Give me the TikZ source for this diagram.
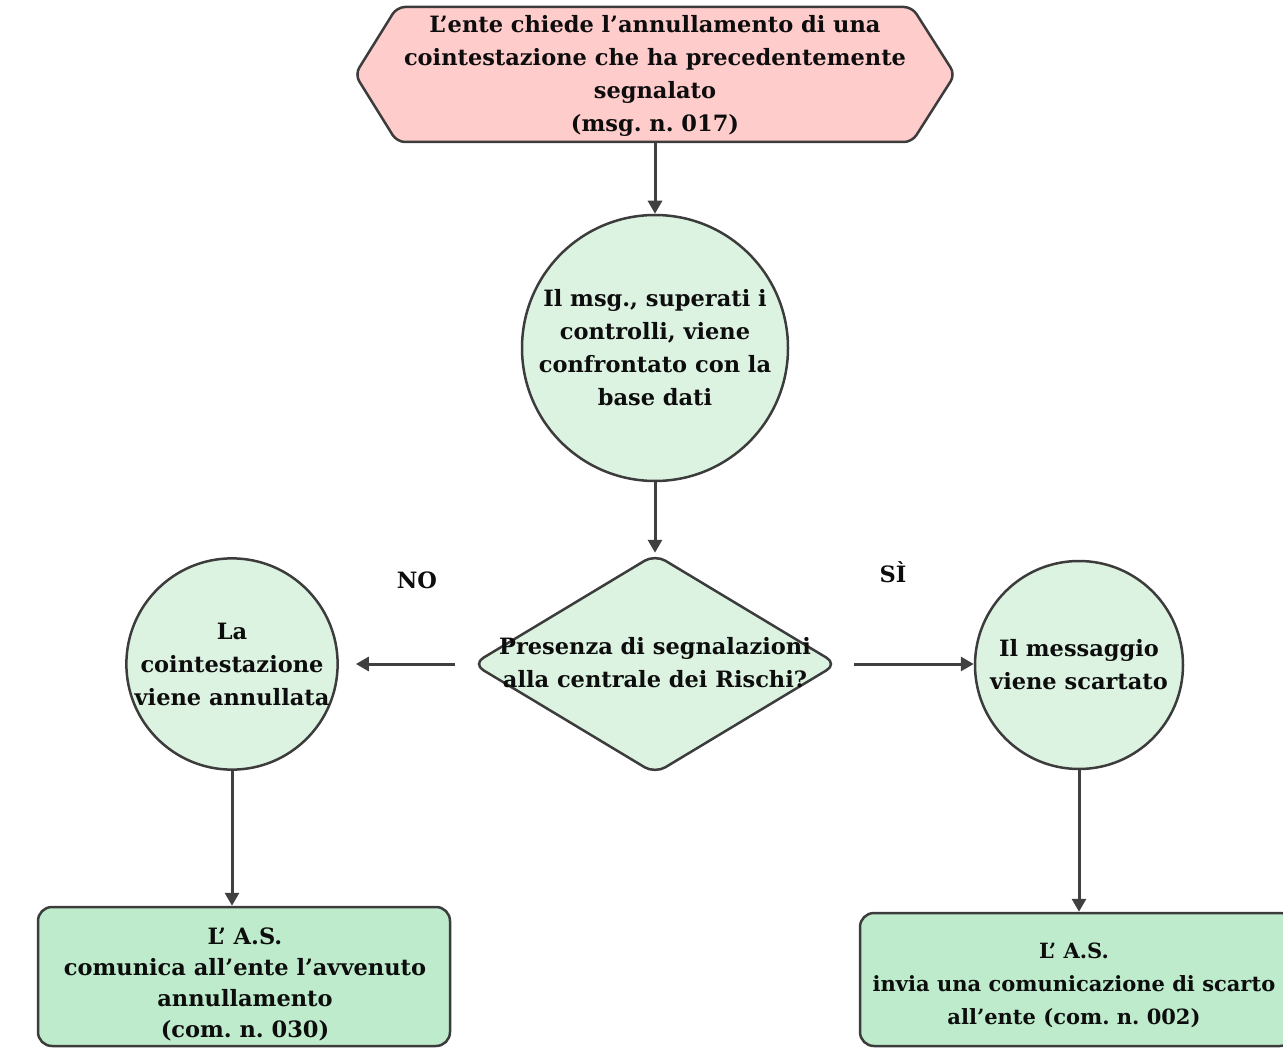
\documentclass[tikz,border=0pt]{standalone}
\usepackage{fontspec}
\setmainfont{DejaVu Serif}
\frenchspacing
\usetikzlibrary{shapes.geometric,arrows.meta}
\definecolor{edgegray}{HTML}{3C3C3C}
\definecolor{arrowgray}{HTML}{404040}
\definecolor{startpink}{HTML}{FFCCCC}
\definecolor{palegreen}{HTML}{DDF3E2}
\definecolor{boxgreen}{HTML}{BDEBCB}
\definecolor{ink}{HTML}{0D0D0D}
\begin{document}
\begin{tikzpicture}[x=1pt,y=-1pt,
  every node/.style={font=\bfseries\fontsize{22.5}{33}\selectfont, text=ink, align=center},
  shapeline/.style={draw=edgegray, line width=2.5pt},
  bubble/.style={shapeline, circle, fill=palegreen, inner sep=0pt},
  decision/.style={shapeline, diamond, fill=palegreen, inner sep=0pt, rounded corners=12pt,
                   minimum width=365pt, minimum height=220pt},
  outbox/.style={shapeline, rectangle, fill=boxgreen, rounded corners=14pt, inner sep=0pt},
  flow/.style={draw=arrowgray, line width=3pt, -{Triangle[length=13pt,width=14pt]}},
  plain/.style={inner sep=0pt}
]
\useasboundingbox (0,0) rectangle (1283,1048);
\clip (0,0) rectangle (1283,1048);

% start: hexagonal terminator
\node[plain, minimum width=600pt, minimum height=135pt] (start) at (655,74.5) {};
\draw[shapeline, fill=startpink, rounded corners=8pt]
  (397,7) -- (912,7) -- (955,74.5) -- (912,142) -- (397,142) -- (355,74.5) -- cycle;
\node[plain] (starttext) at (655,76) {L’ente chiede l’annullamento di una\\cointestazione che ha precedentemente\\segnalato\\(msg. n. 017)};

% check against the data base
\node[bubble, minimum size=266pt] (check) at (655,348)
  {Il msg., superati i\\controlli, viene\\confrontato con la\\base dati};

% decision
\node[decision] (q) at (655,664) {};
\node[plain] (qtext) at (655,663) {Presenza di segnalazioni\\alla centrale dei Rischi?};

% outcomes
\node[bubble, minimum size=208pt] (cancel) at (232,664)
  {La\\cointestazione\\viene annullata};
\node[bubble, minimum size=208pt] (discard) at (1079,665)
  {Il messaggio\\viene scartato};

\node[outbox, minimum width=412pt, minimum height=139pt] (notify) at (244,976.5) {};
\node[plain, font=\bfseries\fontsize{22.5}{31}\selectfont] (notifytext) at (245,984)
  {L’ A.S.\\comunica all’ente l’avvenuto\\annullamento\\(com. n. 030)};
\node[outbox, minimum width=434pt, minimum height=133pt] (reject) at (1077,979.5) {};
\node[plain, font=\bfseries\fontsize{21}{33}\selectfont] (rejecttext) at (1074,985)
  {L’ A.S.\\invia una comunicazione di scarto\\all’ente (com. n. 002)};

% branch labels
\node[plain] (no) at (417,580) {NO};
\node[plain] (yes) at (893,572) {SÌ};

% connectors
\draw[flow] (start.south) -- (check.north);
\draw[flow] (check.south) -- (q.north);
\draw[flow, shorten <=16pt, shorten >=17pt] (q.west) -- (q.west -| cancel.east);
\draw[flow, shorten <=15pt] (q.east) -- (q.east -| discard.west);
\draw[flow] (cancel.south) -- (cancel.south |- notify.north);
\draw[flow] (discard.south) -- (discard.south |- reject.north);
\end{tikzpicture}
\end{document}
